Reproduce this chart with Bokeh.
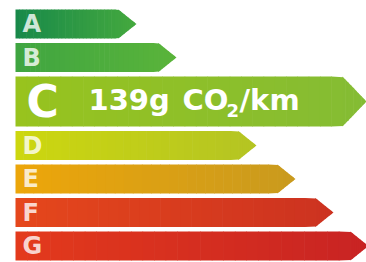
import numpy as np
from bokeh.plotting import figure
from bokeh.models import ColumnDataSource, Range1d, Label
from bokeh.core.properties import value
from bokeh.embed import file_html
from bokeh.resources import INLINE

# ---- data ----
ratings = ["A", "B", "C", "D", "E", "F", "G"]
bar_length = [121, 161, 351, 241, 280, 318, 353]
highlight = "C"
value_main = "139g"
value_unit = "CO"
value_sub = "2"
value_tail = "/km"

# ---- styles ----
left_colors = ["#17894a", "#3fa541", "#98c31e", "#cdd70f", "#eda60a", "#e5471c", "#e33a1c"]
right_colors = ["#45a93e", "#5ab43a", "#84bc34", "#b4c423", "#c99a1e", "#cc3220", "#c82323"]
FONT = value("DejaVu Sans")
BASE_FIX = 0.355  # svg text baseline correction (em)


def hex_to_rgb(h):
    h = h.lstrip("#")
    return np.array([int(h[i:i + 2], 16) for i in (0, 2, 4)], dtype=float)


def mix(c1, c2, t):
    a, b = hex_to_rgb(c1), hex_to_rgb(c2)
    c = (a * (1 - t) + b * t).round().astype(int)
    return "#%02x%02x%02x" % tuple(c)


p = figure(width=366, height=262, output_backend="svg", toolbar_location=None,
           x_range=Range1d(-15, 351), y_range=Range1d(254, -8),
           x_axis_type=None, y_axis_type=None, min_border=0)
p.grid.visible = False
p.outline_line_color = None
p.background_fill_color = "white"
p.border_fill_color = "white"

xs, ys, cols = [], [], []
letters = dict(x=[], y=[], t=[])
mids = {}
cursor = 1.0
for i, r in enumerate(ratings):
    h = 50.0 if r == highlight else 29.0
    top = cursor
    mid = top + h / 2
    mids[r] = mid
    L = bar_length[i]
    depth = 10 + 0.28 * h
    body = L - depth
    edges = np.concatenate([np.linspace(0, body, 30), np.linspace(body, L, 10)[1:]])

    def hh(x):
        return h / 2 if x <= body else h / 2 * (L - x) / depth

    for a, b in zip(edges[:-1], edges[1:]):
        bb = min(b + 0.6, L)
        xs.append([a, bb, bb, a])
        ys.append([mid - hh(a), mid - hh(bb), mid + hh(bb), mid + hh(a)])
        cols.append(mix(left_colors[i], right_colors[i], ((a + b) / 2) / L))
    if r != highlight:
        letters["x"].append(7)
        letters["y"].append(mid + 0.37 * 24 - BASE_FIX * 24)
        letters["t"].append(r)
    cursor = top + h + 4.5

p.patches(xs, ys, fill_color=cols, line_color=None)

p.text(x="x", y="y", text="t", source=ColumnDataSource(letters),
       text_font=FONT, text_font_style="bold", text_font_size="24px",
       text_color="white", text_alpha=0.8, text_baseline="alphabetic", text_align="left")

cm = mids[highlight]
p.add_layout(Label(x=11, y=cm + 0.365 * 44 - BASE_FIX * 44, text=highlight, text_font="DejaVu Sans",
                   text_font_style="bold", text_font_size="44px", text_color="white",
                   text_baseline="alphabetic"))
base = cm + 9
for txt, xx, yy, fs in [(value_main, 73, base, 29), (value_unit, 167, base, 29),
                        (value_sub, 211, base + 6, 18), (value_tail, 224, base, 29)]:
    p.add_layout(Label(x=xx, y=yy - BASE_FIX * fs, text=txt, text_font="DejaVu Sans",
                       text_font_style="bold", text_font_size=f"{fs}px", text_color="white",
                       text_baseline="alphabetic"))

open("out.html", "w").write(file_html(p, INLINE))
